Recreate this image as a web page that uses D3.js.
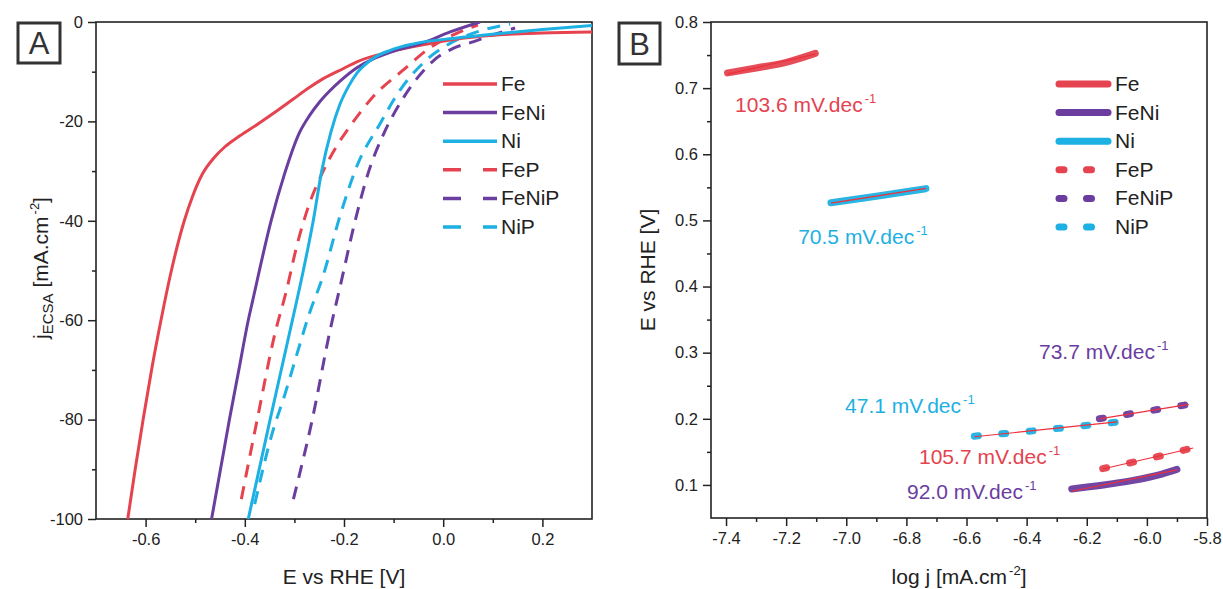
<!DOCTYPE html>
<html>
<head>
<meta charset="utf-8">
<script src="https://cdn.jsdelivr.net/npm/d3@7"></script>
<style>
body{margin:0;background:#fff}
text{font-family:"Liberation Sans",Arial,sans-serif}
</style>
</head>
<body>
<script>
let width = 1223,
	height = 589;

// series order: Fe, FeNi, Ni, FeP, FeNiP, NiP
const names = ["Fe", "FeNi", "Ni", "FeP", "FeNiP", "NiP"];
const colors = ["#e4434f", "#6a3d9f", "#1db0e3", "#e4434f", "#6a3d9f", "#1db0e3"];
const dashed = [false, false, false, true, true, true];

// panel A : LSV, [E vs RHE (V), j ECSA (mA/cm2)]
const lsvFe = [[-0.636,-100],[-0.621,-90],[-0.605,-80],[-0.588,-70],[-0.569,-60],[-0.548,-50],[-0.522,-40],[-0.505,-35],[-0.485,-30.5],[-0.462,-27.3],[-0.440,-25.1],[-0.410,-22.9],[-0.375,-20.6],[-0.340,-18.2],[-0.305,-15.7],[-0.270,-13.2],[-0.242,-11.4],[-0.200,-9.3],[-0.174,-8.0],[-0.107,-6.0],[-0.041,-4.6],[0.028,-3.4],[0.094,-2.7],[0.200,-2.2],[0.300,-2.0]];
const lsvFeNi = [[-0.467,-100],[-0.449,-90],[-0.431,-80],[-0.412,-70],[-0.393,-60],[-0.384,-56],[-0.347,-40],[-0.320,-30.6],[-0.290,-22.3],[-0.270,-18.9],[-0.250,-16.2],[-0.230,-14.0],[-0.208,-11.9],[-0.174,-9.2],[-0.141,-7.4],[-0.107,-6.1],[-0.041,-4.2],[0.014,-2.0],[0.074,0]];
const lsvNi = [[-0.393,-100],[-0.349,-80],[-0.304,-60],[-0.282,-50],[-0.262,-40],[-0.245,-30],[-0.226,-22],[-0.208,-16.5],[-0.190,-12.8],[-0.174,-10.3],[-0.141,-7.3],[-0.107,-5.7],[-0.060,-4.4],[0.028,-3.2],[0.094,-2.5],[0.200,-1.5],[0.300,-0.7]];
const lsvFeP = [[-0.407,-96],[-0.375,-80],[-0.340,-63],[-0.316,-54],[-0.295,-45],[-0.273,-37.5],[-0.242,-30],[-0.215,-25],[-0.188,-21],[-0.141,-15],[-0.081,-9.7],[-0.027,-5.2],[0.020,-2.6],[0.070,-0.6]];
const lsvFeNiP = [[-0.302,-96],[-0.264,-80],[-0.228,-62],[-0.205,-52],[-0.180,-41],[-0.150,-30],[-0.120,-22.5],[-0.085,-16],[-0.050,-11],[-0.020,-7.8],[0.020,-5.3],[0.060,-4.0],[0.100,-2.6],[0.145,-1.2]];
const lsvNiP = [[-0.380,-97],[-0.344,-82.5],[-0.320,-75.2],[-0.296,-67.2],[-0.272,-59.3],[-0.242,-51],[-0.208,-39],[-0.174,-29],[-0.127,-20.4],[-0.087,-13.7],[-0.041,-8.3],[0.014,-4.3],[0.068,-2.0],[0.135,-0.4]];

// panel B : Tafel, [log j, E vs RHE (V)]
const tafelFe = [[-7.395,0.723],[-7.30,0.7305],[-7.20,0.739],[-7.103,0.7525]];
const tafelFeNi = [[-6.25,0.094],[-6.15,0.0995],[-6.05,0.1065],[-5.95,0.1165],[-5.90,0.1235]];
const tafelNi = [[-7.051,0.5268],[-6.90,0.5365],[-6.735,0.548]];
const tafelFeP = [[-6.147,0.1247],[-6.00,0.139],[-5.846,0.156]];
const tafelFeNiP = [[-6.158,0.200],[-6.00,0.2115],[-5.861,0.2217]];
const tafelNiP = [[-6.574,0.1737],[-6.35,0.183],[-6.099,0.195]];
const tafelSlopes = [103.6, 92.0, 70.5, 105.7, 73.7, 47.1]; // mV/dec
// label anchors [log j, E]
const tafelLabelPos = [[-7.37,0.664],[-6.798,0.079],[-7.16,0.464],[-6.758,0.132],[-6.359,0.290],[-7.004,0.209]];

const lsv = [lsvFe, lsvFeNi, lsvNi, lsvFeP, lsvFeNiP, lsvNiP];
const tafel = [tafelFe, tafelFeNi, tafelNi, tafelFeP, tafelFeNiP, tafelNiP];

const xTicksA = [-0.6, -0.4, -0.2, 0.0, 0.2];
const xMinorA = [-0.5, -0.3, -0.1, 0.1];
const yTicksA = [-100, -80, -60, -40, -20, 0];
const yMinorA = [-90, -70, -50, -30, -10];
const xTicksB = [-7.4, -7.2, -7.0, -6.8, -6.6, -6.4, -6.2, -6.0, -5.8];
const xMinorB = [-7.3, -7.1, -6.9, -6.7, -6.5, -6.3, -6.1, -5.9];
const yTicksB = [0.1, 0.2, 0.3, 0.4, 0.5, 0.6, 0.7, 0.8];
const yMinorB = [0.15, 0.25, 0.35, 0.45, 0.55, 0.65, 0.75];

let svg = d3.select("body").append("svg").attr("width", width).attr("height", height);

let xA = d3.scaleLinear().domain([-0.7, 0.3]).range([96, 592]);
let yA = d3.scaleLinear().domain([-100, 0]).range([519, 22]);
let xB = d3.scaleLinear().domain([-7.45, -5.8]).range([711, 1207]);
let yB = d3.scaleLinear().domain([0.05, 0.8]).range([518, 22]);

function drawAxes(x, y, xt, xm, yt, ym, xfmt, yfmt) {
	let [x0, x1] = x.range(), [y1, y0] = y.range();
	let g = svg.append("g");
	g.append("g").attr("transform", "translate(0," + y1 + ")")
		.call(d3.axisBottom(x).tickValues(xt).tickSize(8).tickSizeOuter(0).tickPadding(6).tickFormat(xfmt));
	g.append("g").attr("transform", "translate(0," + y1 + ")")
		.call(d3.axisBottom(x).tickValues(xm).tickSize(4).tickSizeOuter(0).tickFormat(""));
	g.append("g").attr("transform", "translate(" + x0 + ",0)")
		.call(d3.axisLeft(y).tickValues(yt).tickSize(8).tickSizeOuter(0).tickPadding(5).tickFormat(yfmt));
	g.append("g").attr("transform", "translate(" + x0 + ",0)")
		.call(d3.axisLeft(y).tickValues(ym).tickSize(4).tickSizeOuter(0).tickFormat(""));
	g.selectAll(".domain").remove();
	g.selectAll("line").attr("stroke", "#222").attr("stroke-width", 1.5);
	g.selectAll("text").attr("font-size", 16.5).attr("fill", "#222")
		.style("font-family", "'Liberation Sans', Arial, sans-serif");
	g.append("rect").attr("x", x0).attr("y", y0).attr("width", x1 - x0).attr("height", y1 - y0)
		.attr("fill", "none").attr("stroke", "#222").attr("stroke-width", 1.6);
}

drawAxes(xA, yA, xTicksA, xMinorA, yTicksA, yMinorA, d => d.toFixed(1), d => String(d));
drawAxes(xB, yB, xTicksB, xMinorB, yTicksB, yMinorB, d => d.toFixed(1), d => d.toFixed(1));

// panel letters
function letterBox(x, y, w, h, s) {
	svg.append("rect").attr("x", x).attr("y", y).attr("width", w).attr("height", h)
		.attr("fill", "none").attr("stroke", "#333").attr("stroke-width", 3);
	svg.append("text").attr("x", x + w / 2).attr("y", y + h / 2 + 11).attr("text-anchor", "middle")
		.attr("font-size", 31).attr("fill", "#333").text(s);
}
letterBox(18, 23, 42, 40, "A");
letterBox(619, 23, 41, 41, "B");

// panel A curves
svg.append("clipPath").attr("id", "clipA").append("rect")
	.attr("x", 96).attr("y", 22).attr("width", 496).attr("height", 497);

let lineA = d3.line().x(d => xA(d[0])).y(d => yA(d[1])).curve(d3.curveMonotoneX);

let gA = svg.append("g").attr("clip-path", "url(#clipA)");
// dashed first, then solid on top
[3, 4, 5, 0, 1, 2].forEach(function(i){
	gA.append("path").datum(lsv[i])
		.attr("d", lineA)
		.attr("fill", "none")
		.attr("stroke", colors[i])
		.attr("stroke-width", 3)
		.attr("stroke-dasharray", dashed[i] ? "13,9" : null);
});

// legend A
names.forEach(function(n, i){
	let yy = 84 + i * 28.6;
	svg.append("line").attr("x1", 443).attr("x2", 497).attr("y1", yy).attr("y2", yy)
		.attr("stroke", colors[i]).attr("stroke-width", 3.5)
		.attr("stroke-dasharray", dashed[i] ? "18,22" : null);
	svg.append("text").attr("x", 501).attr("y", yy + 7).attr("font-size", 21).attr("fill", "#222").text(n);
});

// panel B segments
let lineB = d3.line().x(d => xB(d[0])).y(d => yB(d[1])).curve(d3.curveMonotoneX);

tafel.forEach(function(seg, i){
	svg.append("path").datum(seg)
		.attr("d", lineB)
		.attr("fill", "none")
		.attr("stroke", colors[i])
		.attr("stroke-width", 7)
		.attr("stroke-linecap", "round")
		.attr("stroke-dasharray", dashed[i] ? "4,23.5" : null)
		.attr("opacity", 0.95);
});

// linear fits (slope from the label, through the mean point)
tafel.forEach(function(seg, i){
	let mx = d3.mean(seg, d => d[0]), my = d3.mean(seg, d => d[1]);
	let k = tafelSlopes[i] / 1000;
	let xs = d3.extent(seg, d => d[0]);
	svg.append("line")
		.attr("x1", xB(xs[0])).attr("y1", yB(my + k * (xs[0] - mx)))
		.attr("x2", xB(xs[1])).attr("y2", yB(my + k * (xs[1] - mx)))
		.attr("stroke", "#ee2f3a").attr("stroke-width", 1.1);
});

// slope labels
tafelSlopes.forEach(function(s, i){
	let t = svg.append("text")
		.attr("x", xB(tafelLabelPos[i][0])).attr("y", yB(tafelLabelPos[i][1]))
		.attr("font-size", 21).attr("fill", colors[i]);
	t.append("tspan").text(s.toFixed(1) + " mV.dec");
	t.append("tspan").attr("dy", -9).attr("dx", 2).attr("font-size", 13).text("-1");
});

// legend B
names.forEach(function(n, i){
	let yy = 84 + i * 28.6;
	let l = svg.append("line").attr("x1", 1059).attr("x2", 1108).attr("y1", yy).attr("y2", yy)
		.attr("stroke", colors[i]).attr("stroke-width", 7).attr("stroke-linecap", "round");
	if (dashed[i]) l.attr("stroke-dasharray", "5,22.5");
	svg.append("text").attr("x", 1115).attr("y", yy + 7).attr("font-size", 21).attr("fill", "#222").text(n);
});

// axis titles
function xTitle(cx, parts) {
	let t = svg.append("text").attr("x", cx).attr("y", 584).attr("text-anchor", "middle")
		.attr("font-size", 21).attr("fill", "#222");
	parts(t);
}
xTitle(344, t => t.text("E vs RHE [V]"));
xTitle(959, function(t){
	t.append("tspan").text("log j [mA.cm");
	t.append("tspan").attr("dy", -9).attr("dx", 2).attr("font-size", 13).text("-2");
	t.append("tspan").attr("dy", 9).text("]");
});

let tyA = svg.append("text").attr("transform", "translate(48,268) rotate(-90)")
	.attr("text-anchor", "middle").attr("font-size", 21).attr("fill", "#222");
tyA.append("tspan").text("j");
tyA.append("tspan").attr("dy", 5).attr("font-size", 15).text("ECSA");
tyA.append("tspan").attr("dy", -5).text(" [mA.cm");
tyA.append("tspan").attr("dy", -9).attr("dx", 2).attr("font-size", 13).text("-2");
tyA.append("tspan").attr("dy", 9).text("]");

svg.append("text").attr("transform", "translate(655,270) rotate(-90)")
	.attr("text-anchor", "middle").attr("font-size", 21).attr("fill", "#222")
	.text("E vs RHE [V]");
</script>
</body>
</html>
